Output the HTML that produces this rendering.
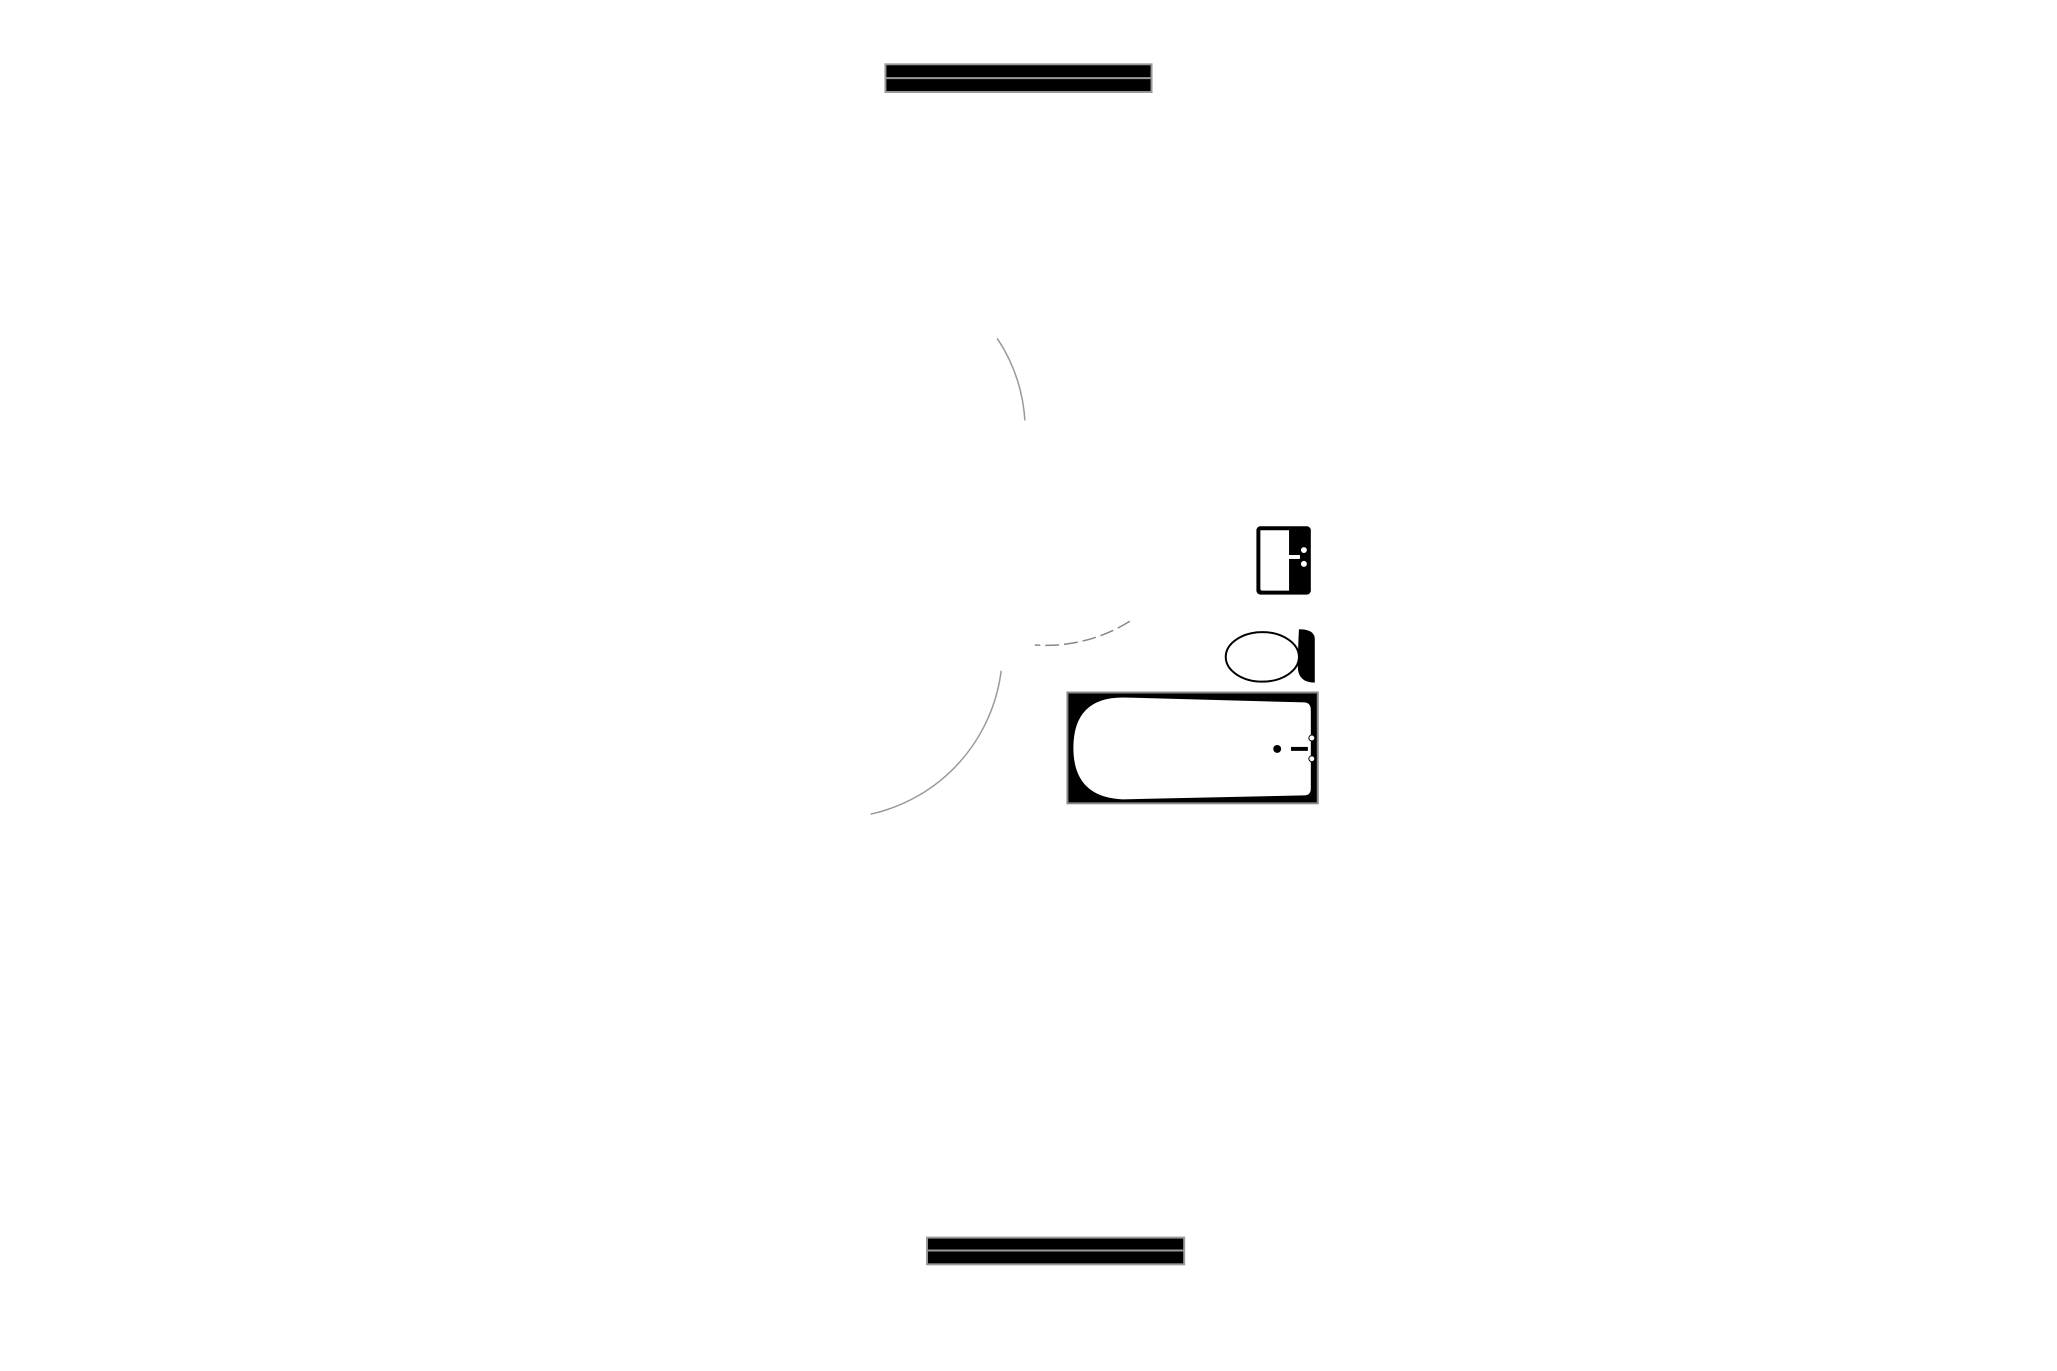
<!DOCTYPE html>
<html><head><style>
html,body{margin:0;padding:0;background:#fff;width:2057px;height:1371px;overflow:hidden}
</style></head><body>
<svg width="2057" height="1371" viewBox="0 0 2057 1371" xmlns="http://www.w3.org/2000/svg">
<rect width="2057" height="1371" fill="#fff"/>
<g transform="scale(0.9893)">
<!-- top bar -->
<rect x="895" y="65" width="269" height="28" fill="#000" stroke="#999" stroke-width="2"/>
<line x1="895" y1="79" x2="1164" y2="79" stroke="#999" stroke-width="2"/>
<!-- bottom bar -->
<rect x="937" y="1251" width="260" height="27" fill="#000" stroke="#999" stroke-width="2"/>
<line x1="937" y1="1264" x2="1197" y2="1264" stroke="#999" stroke-width="2"/>
<!-- arcs -->
<path d="M1008 342 A170 170 0 0 1 1036 425" fill="none" stroke="#999" stroke-width="1.5"/>
<path d="M1012 678 A170 170 0 0 1 880 823" fill="none" stroke="#999" stroke-width="1.5"/>
<path d="M1142 628 A160 160 0 0 1 1046 652" fill="none" stroke="#888" stroke-width="1.5" stroke-dasharray="14 5"/>
<!-- sink -->
<rect x="1270" y="532" width="55" height="69" rx="4" fill="#000"/>
<path d="M1274 536 H1303 V597 H1276 Q1274 597 1274 595 Z" fill="#fff"/>
<rect x="1302" y="561" width="12" height="4" fill="#fff"/>
<circle cx="1318" cy="556" r="3" fill="#fff"/><circle cx="1318" cy="570" r="3" fill="#fff"/>
<!-- toilet -->
<path d="M1313 636 Q1329 636 1329 646 V690 Q1310 690 1312 670 Q1312 655 1313 636 Z" fill="#000"/>
<ellipse cx="1276" cy="664" rx="37" ry="25" fill="#fff" stroke="#000" stroke-width="2"/>
<!-- tub -->
<rect x="1079" y="700" width="253" height="112" fill="#000" stroke="#888" stroke-width="2"/>
<path d="M1135 705 L1318 710 Q1325 710 1325 718 V797 Q1325 804 1318 804 L1135 808 Q1085 806 1085 756 Q1085 705 1135 705 Z" fill="#fff"/>
<circle cx="1291" cy="757" r="4" fill="#000"/>
<rect x="1305" y="755" width="17" height="4" fill="#000"/>
<circle cx="1326" cy="746" r="3" fill="#fff" stroke="#000"/><circle cx="1326" cy="767" r="3" fill="#fff" stroke="#000"/>
</g>
</svg>
</body></html>
